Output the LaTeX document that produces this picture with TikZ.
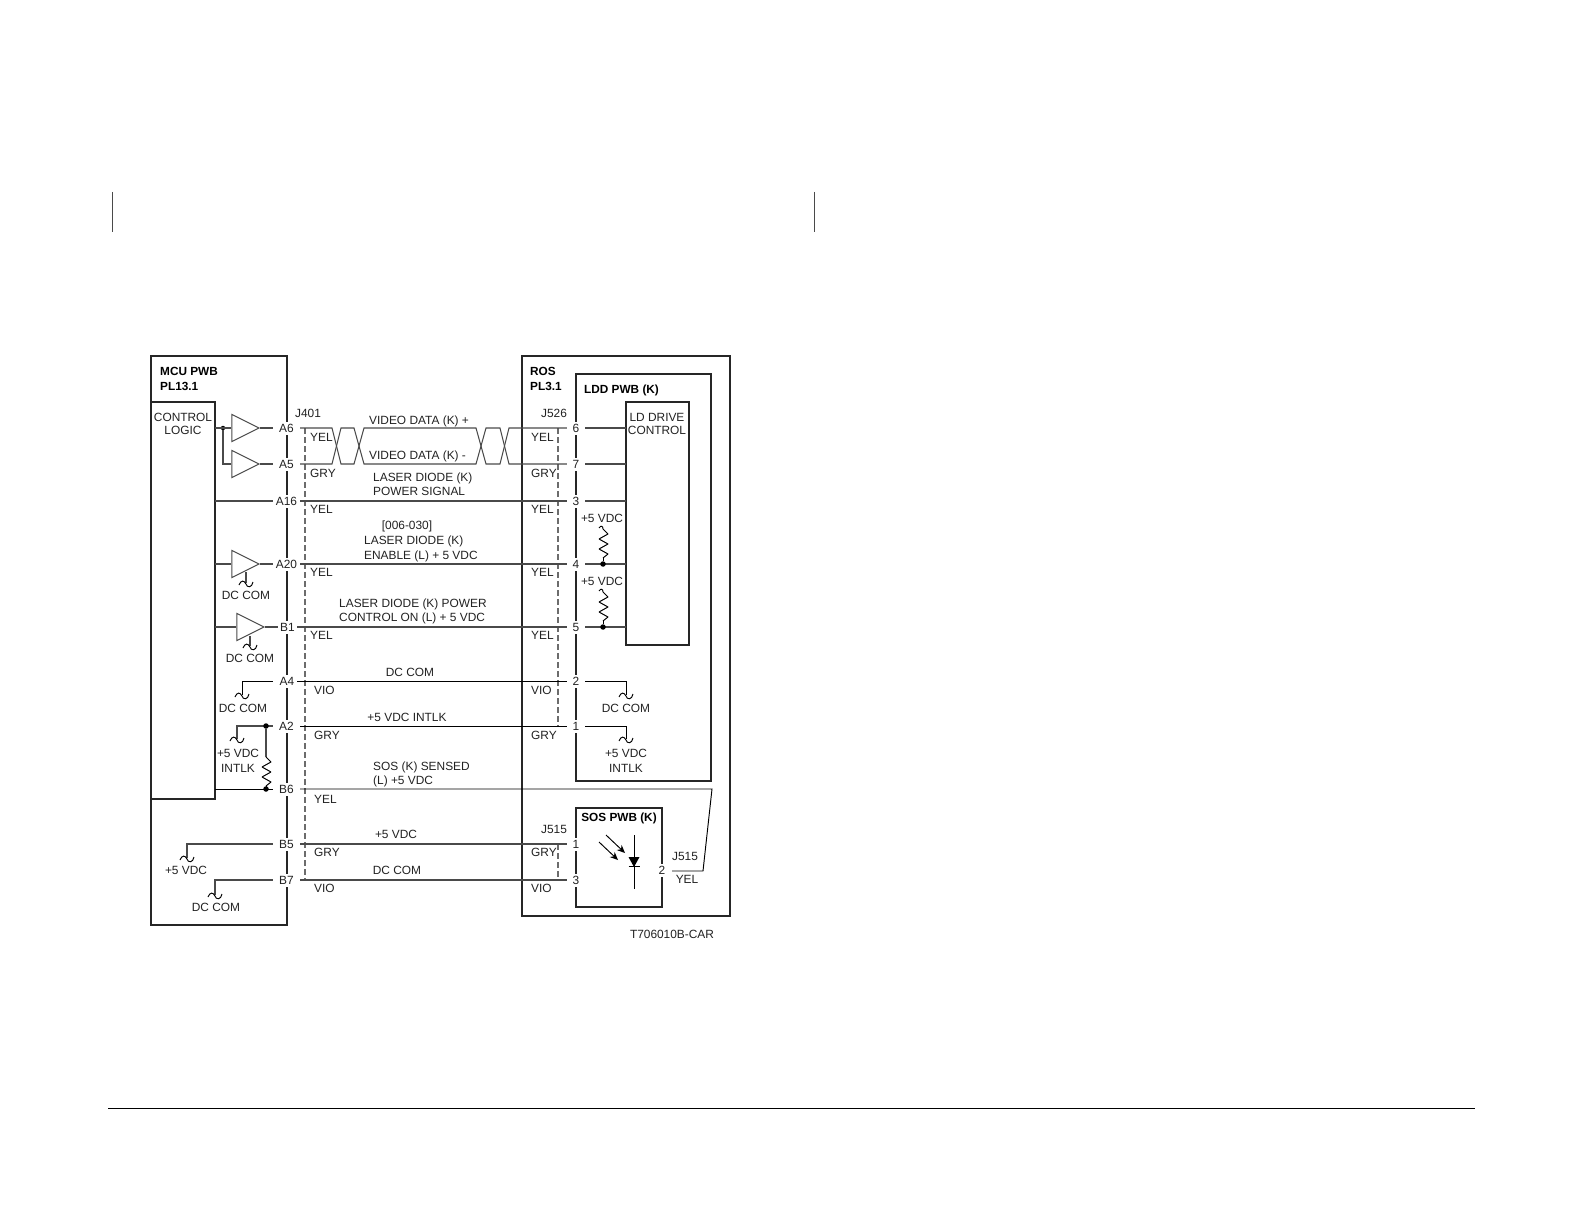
\documentclass[tikz,border=0pt]{standalone}
\usepackage{fontspec}
\setmainfont{Liberation Sans}
\usetikzlibrary{shapes.geometric,arrows.meta}
\definecolor{wiregray}{HTML}{4A4A4A}
\definecolor{inkgray}{HTML}{222222}
\tikzset{
  box/.style={draw=black!85,line width=1.1pt},
  wire/.style={draw=wiregray,line width=1.05pt},
  bwire/.style={draw=black,line width=0.95pt},
  dashline/.style={draw=gray!85!black,line width=1.1pt,dash pattern=on 6pt off 3pt},
  lbl/.style={inner sep=0pt,font=\fontsize{11.9}{12}\selectfont,text=inkgray,text height=8.5pt,text depth=0pt},
  lleft/.style={lbl,anchor=west},
  hd/.style={lbl,anchor=west,text=black,font=\fontsize{11.8}{12}\selectfont\bfseries},
  pin/.style={lbl,fill=white,minimum height=13pt,minimum width=#1},
  pin/.default=27pt,
  amp/.style={draw=wiregray,line width=1.05pt,isosceles triangle,isosceles triangle stretches,isosceles triangle apex angle=60,minimum width=27pt,minimum height=27pt,inner sep=0pt,anchor=apex},
  dotn/.style={circle,fill=black,inner sep=0pt,minimum size=5.5pt},
  gnd/.pic={\draw[line width=0.95pt,draw=black] (-7,2) .. controls (-5,-3) and (-2,-3) .. (0,1) .. controls (1,5) and (6,5) .. (7,-1);},
  zig/.pic={\draw[line width=1pt,draw=black,line join=bevel] (0,0) -- (5,5) -- (-4,10) -- (5,15) -- (-4,20) -- (5,25) -- (0,29);},
  hook/.pic={\draw[line width=0.95pt,draw=black] (-4,-1) .. controls (-2,-4) and (0,-3) .. (0,0);}
}
\begin{document}
\begin{tikzpicture}[x=1pt,y=-1pt]
\useasboundingbox (0,0) rectangle (1582,1222);
% page furniture
\coordinate (p1a) at (112,192); \coordinate (p1b) at (112,232);
\coordinate (p2a) at (814,192); \coordinate (p2b) at (814,232);
\coordinate (p3a) at (108,1108); \coordinate (p3b) at (1475,1108);
\draw[wiregray,line width=0.8pt] (p1a) -- (p1b) (p2a) -- (p2b);
\draw[black,line width=0.9pt] (p3a) -- (p3b);
% boxes
\draw[box] (151,356) rectangle (287,925);
\draw[box] (151,402) rectangle (215,799);
\draw[box] (522,356) rectangle (730,916);
\draw[box] (576,374) rectangle (711,781);
\draw[box] (626,402) rectangle (689,645);
\draw[box] (576,808) rectangle (662,907);
% dashed connector shells
\coordinate (dl1) at (305,428); \coordinate (dl2) at (305,880);
\coordinate (dr1) at (558,428); \coordinate (dr2) at (558,726);
\coordinate (dr3) at (558,844); \coordinate (dr4) at (558,880);
\draw[dashline] (dl1) -- (dl2);
\draw[dashline] (dr1) -- (dr2);
\draw[dashline] (dr3) -- (dr4);
% left pins
\node[pin] (A6) at (286.5,428) {A6};
\node[pin] (A5) at (286.5,464) {A5};
\node[pin] (A16) at (286.5,501) {A16};
\node[pin] (A20) at (286.5,564) {A20};
\node[pin=19pt] (B1) at (287.5,627) {B1};
\node[pin=24pt] (A4) at (285,681) {\hspace*{4pt}A4};
\node[pin] (A2) at (286.5,726) {A2};
\node[pin] (B6) at (286.5,789) {B6};
\node[pin] (B5) at (286.5,844) {B5};
\node[pin] (B7) at (286.5,880) {B7};
% right pins
\node[pin=18pt] (P6) at (576,428) {6};
\node[pin=18pt] (P7) at (576,464) {7};
\node[pin=18pt] (P3) at (576,501) {3};
\node[pin=18pt] (P4) at (576,564) {4};
\node[pin=18pt] (P5) at (576,627) {5};
\node[pin=18pt] (P2) at (576,681) {2};
\node[pin=18pt] (P1) at (576,726) {1};
\node[pin=18pt] (S1) at (576,844) {1};
\node[pin=18pt] (S3) at (576,880) {3};
\node[pin=18pt] (S2) at (662,870) {2};
% amplifiers
\node[amp] (a1) at (260,428) {};
\node[amp] (a2) at (260,464) {};
\node[amp] (a3) at (260,564) {};
\node[amp] (a4) at (265,627) {};
% edge anchors on the logic and drive blocks
\coordinate (cl6) at (215,428); \coordinate (cl16) at (215,501);
\coordinate (cl20) at (215,564); \coordinate (clb1) at (215,627);
\coordinate (clb6) at (215,789);
\coordinate (ld6) at (626,428); \coordinate (ld7) at (626,464);
\coordinate (ld3) at (626,501); \coordinate (ld4) at (626,564);
\coordinate (ld5) at (626,627);
% A6/A5 inputs
\node[dotn,minimum size=4.5pt] (d1) at (223,428) {};
\draw[wire] (cl6) -- (a1.west);
\draw[wire] (d1) |- (a2.west);
\draw[wire] (a1.apex) -- (A6);
\draw[wire] (a2.apex) -- (A5);
% twisted pair
\coordinate (t1) at (332,428); \coordinate (t2) at (341,464);
\coordinate (t3) at (332,464); \coordinate (t4) at (341,428);
\coordinate (t5) at (354,428); \coordinate (t6) at (364,464);
\coordinate (t7) at (354,464); \coordinate (t8) at (364,428);
\coordinate (t9) at (476,428); \coordinate (t10) at (486,464);
\coordinate (t11) at (476,464); \coordinate (t12) at (486,428);
\coordinate (t13) at (500,428); \coordinate (t14) at (509,464);
\coordinate (t15) at (500,464); \coordinate (t16) at (509,428);
\draw[wire] (A6) -- (t1) -- (t2) -- (t7) -- (t8) -- (t9) -- (t10) -- (t15) -- (t16) -- (P6);
\draw[wire] (A5) -- (t3) -- (t4) -- (t5) -- (t6) -- (t11) -- (t12) -- (t13) -- (t14) -- (P7);
\draw[wire] (P6) -- (ld6);
\draw[wire] (P7) -- (ld7);
% A16
\draw[wire] (cl16) -- (A16);
\draw[wire] (A16) -- (P3);
\draw[wire] (P3) -- (ld3);
% A20
\draw[wire] (cl20) -- (a3.west);
\draw[wire] (a3.apex) -- (A20);
\draw[wire] (A20) -- (P4);
\draw[wire] (P4) -- (ld4);
% B1
\draw[wire] (clb1) -- (a4.west);
\draw[wire] (a4.apex) -- (B1);
\draw[wire] (B1) -- (P5);
\draw[wire] (P5) -- (ld5);
% amp grounds
\coordinate (g3t) at (246,572); \coordinate (g3) at (246,583);
\coordinate (g4t) at (250,636); \coordinate (g4) at (250,646);
\draw[wire] (g3t) -- (g3); \pic at (g3) {gnd};
\draw[wire] (g4t) -- (g4); \pic at (g4) {gnd};
% A4
\coordinate (g5c) at (242,681); \coordinate (g5) at (242,695);
\draw[bwire] (A4) -- (g5c) -- (g5); \pic at (g5) {gnd};
\draw[bwire] (A4) -- (P2);
\coordinate (g6c) at (626,681); \coordinate (g6) at (626,695);
\draw[bwire] (P2) -- (g6c) -- (g6); \pic at (g6) {gnd};
% A2
\coordinate (g7c) at (237,726); \coordinate (g7) at (237,739);
\draw[wire] (A2) -- (g7c) -- (g7); \pic at (g7) {gnd};
\draw[bwire] (A2) -- (P1);
\coordinate (g8c) at (626,726); \coordinate (g8) at (626,739);
\draw[bwire] (P1) -- (g8c) -- (g8); \pic at (g8) {gnd};
\node[dotn] (d2) at (266,726) {};
\node[dotn] (d3) at (266,789) {};
\coordinate (r1t) at (266,757);
\draw[wire] (d2) -- (r1t); \pic at (r1t) {zig};
\coordinate (r1b) at (266,786);
\draw[bwire] (r1b) -- (d3);
% B6 run
\coordinate (b6a) at (712,789); \coordinate (b6b) at (703,871); \coordinate (b6c) at (672,871);
\draw[bwire] (clb6) -- (B6);
\draw[bwire] (B6) -- (b6a) -- (b6b) -- (b6c);
% B5, B7
\coordinate (g9c) at (187,844); \coordinate (g9) at (187,858);
\draw[wire] (B5) -- (g9c) -- (g9); \pic at (g9) {gnd};
\draw[wire] (B5) -- (S1);
\coordinate (g10c) at (215,880); \coordinate (g10) at (215,895);
\draw[wire] (B7) -- (g10c) -- (g10); \pic at (g10) {gnd};
\draw[wire] (B7) -- (S3);
% pull-ups in LDD
\coordinate (r2t) at (603,529); \coordinate (r2b) at (603,558);
\coordinate (r3t) at (603,592); \coordinate (r3b) at (603,621);
\pic at (r2t) {zig}; \pic at (r2t) {hook};
\pic at (r3t) {zig}; \pic at (r3t) {hook};
\node[dotn] (d4) at (603,564) {};
\node[dotn] (d5) at (603,627) {};
\draw[bwire] (r2b) -- (d4);
\draw[bwire] (r3b) -- (d5);
% photodiode
\coordinate (pd1) at (634,835); \coordinate (pd2) at (634,889);
\draw[bwire] (pd1) -- (pd2);
\coordinate (tl) at (628.5,857); \coordinate (tr) at (639.5,857); \coordinate (tb) at (634,867);
\fill[black] (tl) -- (tr) -- (tb) -- cycle;
\coordinate (bl) at (628.5,866); \coordinate (br) at (639.5,866);
\draw[bwire] (bl) -- (br);
\coordinate (ar1a) at (606,835); \coordinate (ar1b) at (625,853);
\coordinate (ar2a) at (599,842); \coordinate (ar2b) at (618,860);
\draw[bwire,-{Stealth[length=8pt,width=7pt]}] (ar1a) -- (ar1b);
\draw[bwire,-{Stealth[length=8pt,width=7pt]}] (ar2a) -- (ar2b);
% headings
\node[hd] (t01) at (160,371) {MCU PWB};
\node[hd] (t02) at (160,386) {PL13.1};
\node[hd] (t03) at (530,371) {ROS};
\node[hd] (t04) at (530,386) {PL3.1};
\node[hd] (t05) at (584,389) {LDD PWB (K)};
\node[hd,anchor=center] (t06) at (619,817) {SOS PWB (K)};
\node[lbl] (t07) at (183,417) {CONTROL};
\node[lbl] (t08) at (183,430) {LOGIC};
\node[lbl] (t09) at (657,417) {LD DRIVE};
\node[lbl] (t10) at (657,430) {CONTROL};
\node[lbl] (t11) at (308,413) {J401};
\node[lbl] (t12) at (554,413) {J526};
\node[lbl] (t13) at (554,829) {J515};
\node[lbl] (t14) at (685,856) {J515};
\node[lbl] (t15) at (687,879) {YEL};
% colours left
\node[lleft] (c01) at (310,437) {YEL};
\node[lleft] (c02) at (310,473) {GRY};
\node[lleft] (c03) at (310,509) {YEL};
\node[lleft] (c04) at (310,572) {YEL};
\node[lleft] (c05) at (310,635) {YEL};
\node[lleft] (c06) at (314,690) {VIO};
\node[lleft] (c07) at (314,735) {GRY};
\node[lleft] (c08) at (314,799) {YEL};
\node[lleft] (c09) at (314,852) {GRY};
\node[lleft] (c10) at (314,888) {VIO};
% colours right
\node[lleft] (c11) at (531,437) {YEL};
\node[lleft] (c12) at (531,473) {GRY};
\node[lleft] (c13) at (531,509) {YEL};
\node[lleft] (c14) at (531,572) {YEL};
\node[lleft] (c15) at (531,635) {YEL};
\node[lleft] (c16) at (531,690) {VIO};
\node[lleft] (c17) at (531,735) {GRY};
\node[lleft] (c18) at (531,852) {GRY};
\node[lleft] (c19) at (531,888) {VIO};
% signal names
\node[lleft] (s01) at (369,420) {VIDEO DATA (K) +};
\node[lleft] (s02) at (369,455) {VIDEO DATA (K) -};
\node[lleft] (s03) at (373,477) {LASER DIODE (K)};
\node[lleft] (s04) at (373,491) {POWER SIGNAL};
\node[lbl] (s05) at (407,525) {[006-030]};
\node[lleft] (s06) at (364,540) {LASER DIODE (K)};
\node[lleft] (s07) at (364,555) {ENABLE (L) + 5 VDC};
\node[lleft] (s08) at (339,603) {LASER DIODE (K) POWER};
\node[lleft] (s09) at (339,617) {CONTROL ON (L) + 5 VDC};
\node[lbl] (s10) at (410,672) {DC COM};
\node[lbl] (s11) at (407,717) {+5 VDC INTLK};
\node[lleft] (s12) at (373,766) {SOS (K) SENSED};
\node[lleft] (s13) at (373,780) {(L) +5 VDC};
\node[lbl] (s14) at (396,834) {+5 VDC};
\node[lbl] (s15) at (397,870) {DC COM};
% supply labels
\node[lbl] (v01) at (246,595) {DC COM};
\node[lbl] (v02) at (250,658) {DC COM};
\node[lbl] (v03) at (243,708) {DC COM};
\node[lbl] (v04) at (238,753) {+5 VDC};
\node[lbl] (v05) at (238,768) {INTLK};
\node[lbl] (v06) at (186,870) {+5 VDC};
\node[lbl] (v07) at (216,907) {DC COM};
\node[lbl] (v08) at (602,518) {+5 VDC};
\node[lbl] (v09) at (602,581) {+5 VDC};
\node[lbl] (v10) at (626,708) {DC COM};
\node[lbl] (v11) at (626,753) {+5 VDC};
\node[lbl] (v12) at (626,768) {INTLK};
\node[lbl] (fig) at (672,934) {T706010B-CAR};
\end{tikzpicture}
\end{document}
